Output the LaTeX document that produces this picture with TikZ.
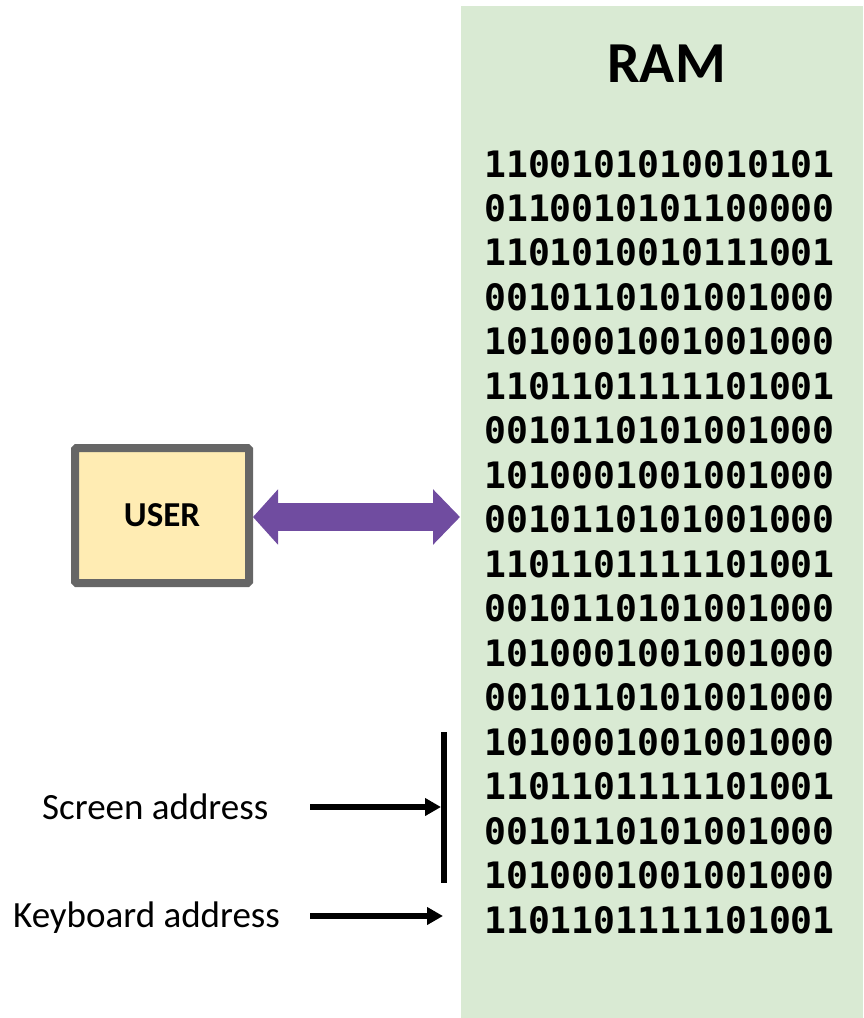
\documentclass[tikz,border=0pt]{standalone}
\usepackage{fontspec}
\setmainfont{Carlito}
\newfontfamily\binfont{DejaVu Sans Mono}
\usetikzlibrary{arrows.meta}
\definecolor{ramgreen}{HTML}{D9EAD3}
\definecolor{useryellow}{HTML}{FFECB3}
\definecolor{usergray}{HTML}{666666}
\definecolor{arrowpurple}{RGB}{112,76,160}
\tikzset{
  lbl/.style={font=\fontsize{37}{44}\selectfont, inner sep=0pt, anchor=base west},
  bits/.style={font=\binfont\bfseries\fontsize{36.4}{44}\selectfont, inner sep=0pt, anchor=base west},
  addrarrow/.style={line width=6pt, -{Triangle[length=16pt,width=17pt]}},
}
\begin{document}
\begin{tikzpicture}[x=1pt,y=-1pt]
\useasboundingbox (0,0) rectangle (863,1018);
% RAM block
\fill[ramgreen] (461,6) rectangle (863,1018);
\node[font=\bfseries\fontsize{58}{64}\selectfont, inner sep=0pt, anchor=base] (ram) at (666.5,82) {RAM};
\foreach \b [count=\i from 0] in {
1100101010010101,
0110010101100000,
1101010010111001,
0010110101001000,
1010001001001000,
1101101111101001,
0010110101001000,
1010001001001000,
0010110101001000,
1101101111101001,
0010110101001000,
1010001001001000,
0010110101001000,
1010001001001000,
1101101111101001,
0010110101001000,
1010001001001000,
1101101111101001}{
  \node[bits] (row\i) at (484,{177+44.47*\i}) {\b};
}
% USER box
\node[draw=usergray, line width=8pt, fill=useryellow, rounded corners=1.5pt,
      minimum width=174pt, minimum height=135pt, inner sep=0pt, outer sep=4pt,
      font=\bfseries\fontsize{35}{40}\selectfont] (user) at (162,515.5) {USER};
\coordinate (ramin) at (460,517);
\draw[arrowpurple, line width=28pt, {Triangle[length=25pt,width=54pt]}-{Triangle[length=27pt,width=54pt]}] (user.east |- ramin) -- (ramin);
% address bar and arrows
\coordinate (bartop) at (443.5,732);
\coordinate (barbot) at (443.5,883);
\draw[line width=6pt] (bartop) -- (barbot);
\node[lbl] (scr) at (42,819) {Screen address};
\node[lbl] (kbd) at (13,927) {Keyboard address};
\coordinate (scrstart) at (310,807);
\coordinate (scrend) at (441,807);
\coordinate (kbdstart) at (310,916);
\coordinate (kbdend) at (443,916);
\draw[addrarrow] (scrstart) -- (scrend);
\draw[addrarrow] (kbdstart) -- (kbdend);
\end{tikzpicture}
\end{document}
